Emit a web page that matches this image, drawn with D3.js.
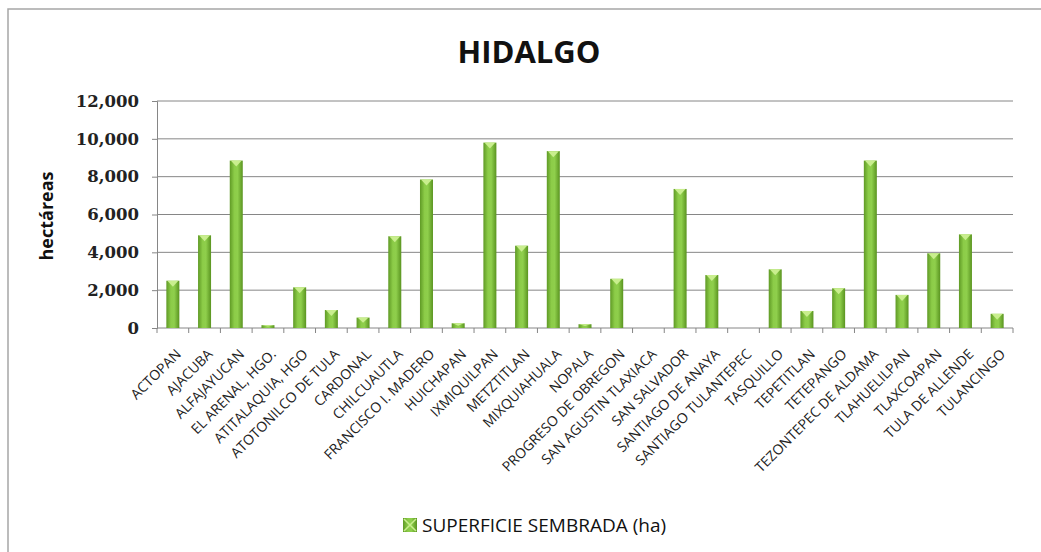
<!DOCTYPE html>
<html>
<head>
<meta charset="utf-8">
<script src="https://cdn.jsdelivr.net/npm/d3@7"></script>
<style>
  body { margin: 0; background: #fff; }
  svg { display: block; }
</style>
</head>
<body>
<svg id="chart" width="1041" height="552"></svg>
<script>
// municipios y superficie sembrada (ha)
var municipios = ["ACTOPAN", "AJACUBA", "ALFAJAYUCAN", "EL ARENAL, HGO.", "ATITALAQUIA, HGO",
  "ATOTONILCO DE TULA", "CARDONAL", "CHILCUAUTLA", "FRANCISCO I. MADERO", "HUICHAPAN",
  "IXMIQUILPAN", "METZTITLAN", "MIXQUIAHUALA", "NOPALA", "PROGRESO DE OBREGON",
  "SAN AGUSTIN TLAXIACA", "SAN SALVADOR", "SANTIAGO DE ANAYA", "SANTIAGO TULANTEPEC",
  "TASQUILLO", "TEPETITLAN", "TETEPANGO", "TEZONTEPEC DE ALDAMA", "TLAHUELILPAN",
  "TLAXCOAPAN", "TULA DE ALLENDE", "TULANCINGO"];

var superficie = [2500, 4900, 8850, 150, 2150,
  950, 550, 4850, 7850, 250,
  9800, 4350, 9350, 200, 2600,
  0, 7350, 2800, 0,
  3100, 900, 2100, 8850, 1750,
  3950, 4950, 750];

var yTicks = [0, 2000, 4000, 6000, 8000, 10000, 12000];
var titulo = "HIDALGO";
var serieNombre = "SUPERFICIE SEMBRADA (ha)";

var data = municipios.map(function(m, i) { return {name: m, value: superficie[i]}; });

var svg = d3.select("#chart");

// gradiente tipo cilindro para las barras
var defs = svg.append("defs");
var grad = defs.append("linearGradient").attr("id", "barGrad")
    .attr("x1", "0%").attr("x2", "100%").attr("y1", "0%").attr("y2", "0%");
grad.append("stop").attr("offset", "0%").attr("stop-color", "#5f9a25");
grad.append("stop").attr("offset", "35%").attr("stop-color", "#8ccc48");
grad.append("stop").attr("offset", "60%").attr("stop-color", "#8fcf4c");
grad.append("stop").attr("offset", "100%").attr("stop-color", "#5a9420");

// marco del grafico (solo se ven arriba e izquierda)
svg.append("rect")
    .attr("x", 8).attr("y", 9)
    .attr("width", 1100).attr("height", 600)
    .attr("fill", "#fff")
    .attr("stroke", "#a6a6a6").attr("stroke-width", 1.5);

var x = d3.scaleBand()
    .domain(municipios)
    .range([157, 1013])
    .paddingInner(0.59)
    .paddingOuter(0.295);

var y = d3.scaleLinear()
    .domain([0, 12000])
    .range([328, 101]);

// lineas de division
svg.append("g").selectAll("line.grid")
    .data(yTicks.slice(1))
    .join("line")
    .attr("class", "grid")
    .attr("x1", 157).attr("x2", 1013)
    .attr("y1", d => y(d)).attr("y2", d => y(d))
    .attr("stroke", "#868686").attr("stroke-width", 1);

// eje Y
var yAxis = svg.append("g")
    .attr("transform", "translate(157,0)")
    .call(d3.axisLeft(y).tickValues(yTicks).tickFormat(d3.format(",")).tickSize(5).tickPadding(13));
yAxis.select(".domain").attr("stroke", "#868686");
yAxis.selectAll(".tick line").attr("stroke", "#868686");
yAxis.selectAll("text")
    .attr("font-family", "'DejaVu Serif'")
    .attr("font-weight", "bold")
    .attr("font-size", 16.5)
    .attr("fill", "#222");

// eje X: linea base con marcas entre categorias
var step = x.step(),
    x0 = x.range()[0];
var xg = svg.append("g");
xg.append("line")
    .attr("x1", 157).attr("x2", 1013)
    .attr("y1", y(0)).attr("y2", y(0))
    .attr("stroke", "#868686");
xg.selectAll("line.tk")
    .data(d3.range(municipios.length + 1))
    .join("line")
    .attr("class", "tk")
    .attr("x1", i => x0 + i * step).attr("x2", i => x0 + i * step)
    .attr("y1", y(0)).attr("y2", y(0) + 5)
    .attr("stroke", "#868686");

// barras
var bars = svg.append("g");
bars.selectAll("rect")
    .data(data.filter(d => d.value > 0))
    .join("rect")
    .attr("x", d => x(d.name))
    .attr("y", d => y(d.value))
    .attr("width", x.bandwidth())
    .attr("height", d => y(0) - y(d.value))
    .attr("fill", "url(#barGrad)");

// bisel claro en la punta de cada barra
bars.selectAll("path")
    .data(data.filter(d => d.value > 0))
    .join("path")
    .attr("d", function(d) {
        var l = x(d.name), w = x.bandwidth(), t = y(d.value);
        var h = Math.min(6, (y(0) - t) / 2);
        return "M" + (l + 1) + "," + t + "L" + (l + w - 1) + "," + t + "L" + (l + w / 2) + "," + (t + h) + "Z";
    })
    .attr("fill", "#c9ee8e");

// etiquetas del eje X
svg.append("g").selectAll("text")
    .data(municipios)
    .join("text")
    .attr("transform", d => "translate(" + (x(d) + x.bandwidth() / 2 + 9) + "," + (y(0) + 27) + ") rotate(-45)")
    .attr("text-anchor", "end")
    .attr("font-family", "'Open Sans'")
    .attr("font-size", 14)
    .attr("fill", "#222")
    .text(d => d);

// titulo
svg.append("text")
    .attr("x", 529).attr("y", 63)
    .attr("text-anchor", "middle")
    .attr("font-family", "'Open Sans'")
    .attr("font-weight", "bold")
    .attr("font-size", 31)
    .attr("fill", "#111")
    .text(titulo);

// titulo del eje Y
svg.append("text")
    .attr("transform", "translate(53,216) rotate(-90)")
    .attr("text-anchor", "middle")
    .attr("font-family", "'Open Sans'")
    .attr("font-weight", "bold")
    .attr("font-size", 18)
    .attr("fill", "#111")
    .text("hectáreas");

// leyenda
var legend = svg.append("g").attr("transform", "translate(403,518)");
legend.append("rect")
    .attr("width", 14).attr("height", 14)
    .attr("fill", "url(#barGrad)");
legend.append("path")
    .attr("d", "M1,1L13,13M13,1L1,13")
    .attr("stroke", "#c9ee8e").attr("stroke-width", 1.5);
legend.append("text")
    .attr("x", 19).attr("y", 14)
    .attr("font-family", "'Open Sans'")
    .attr("font-size", 19)
    .attr("fill", "#111")
    .text(serieNombre);
</script>
</body>
</html>
